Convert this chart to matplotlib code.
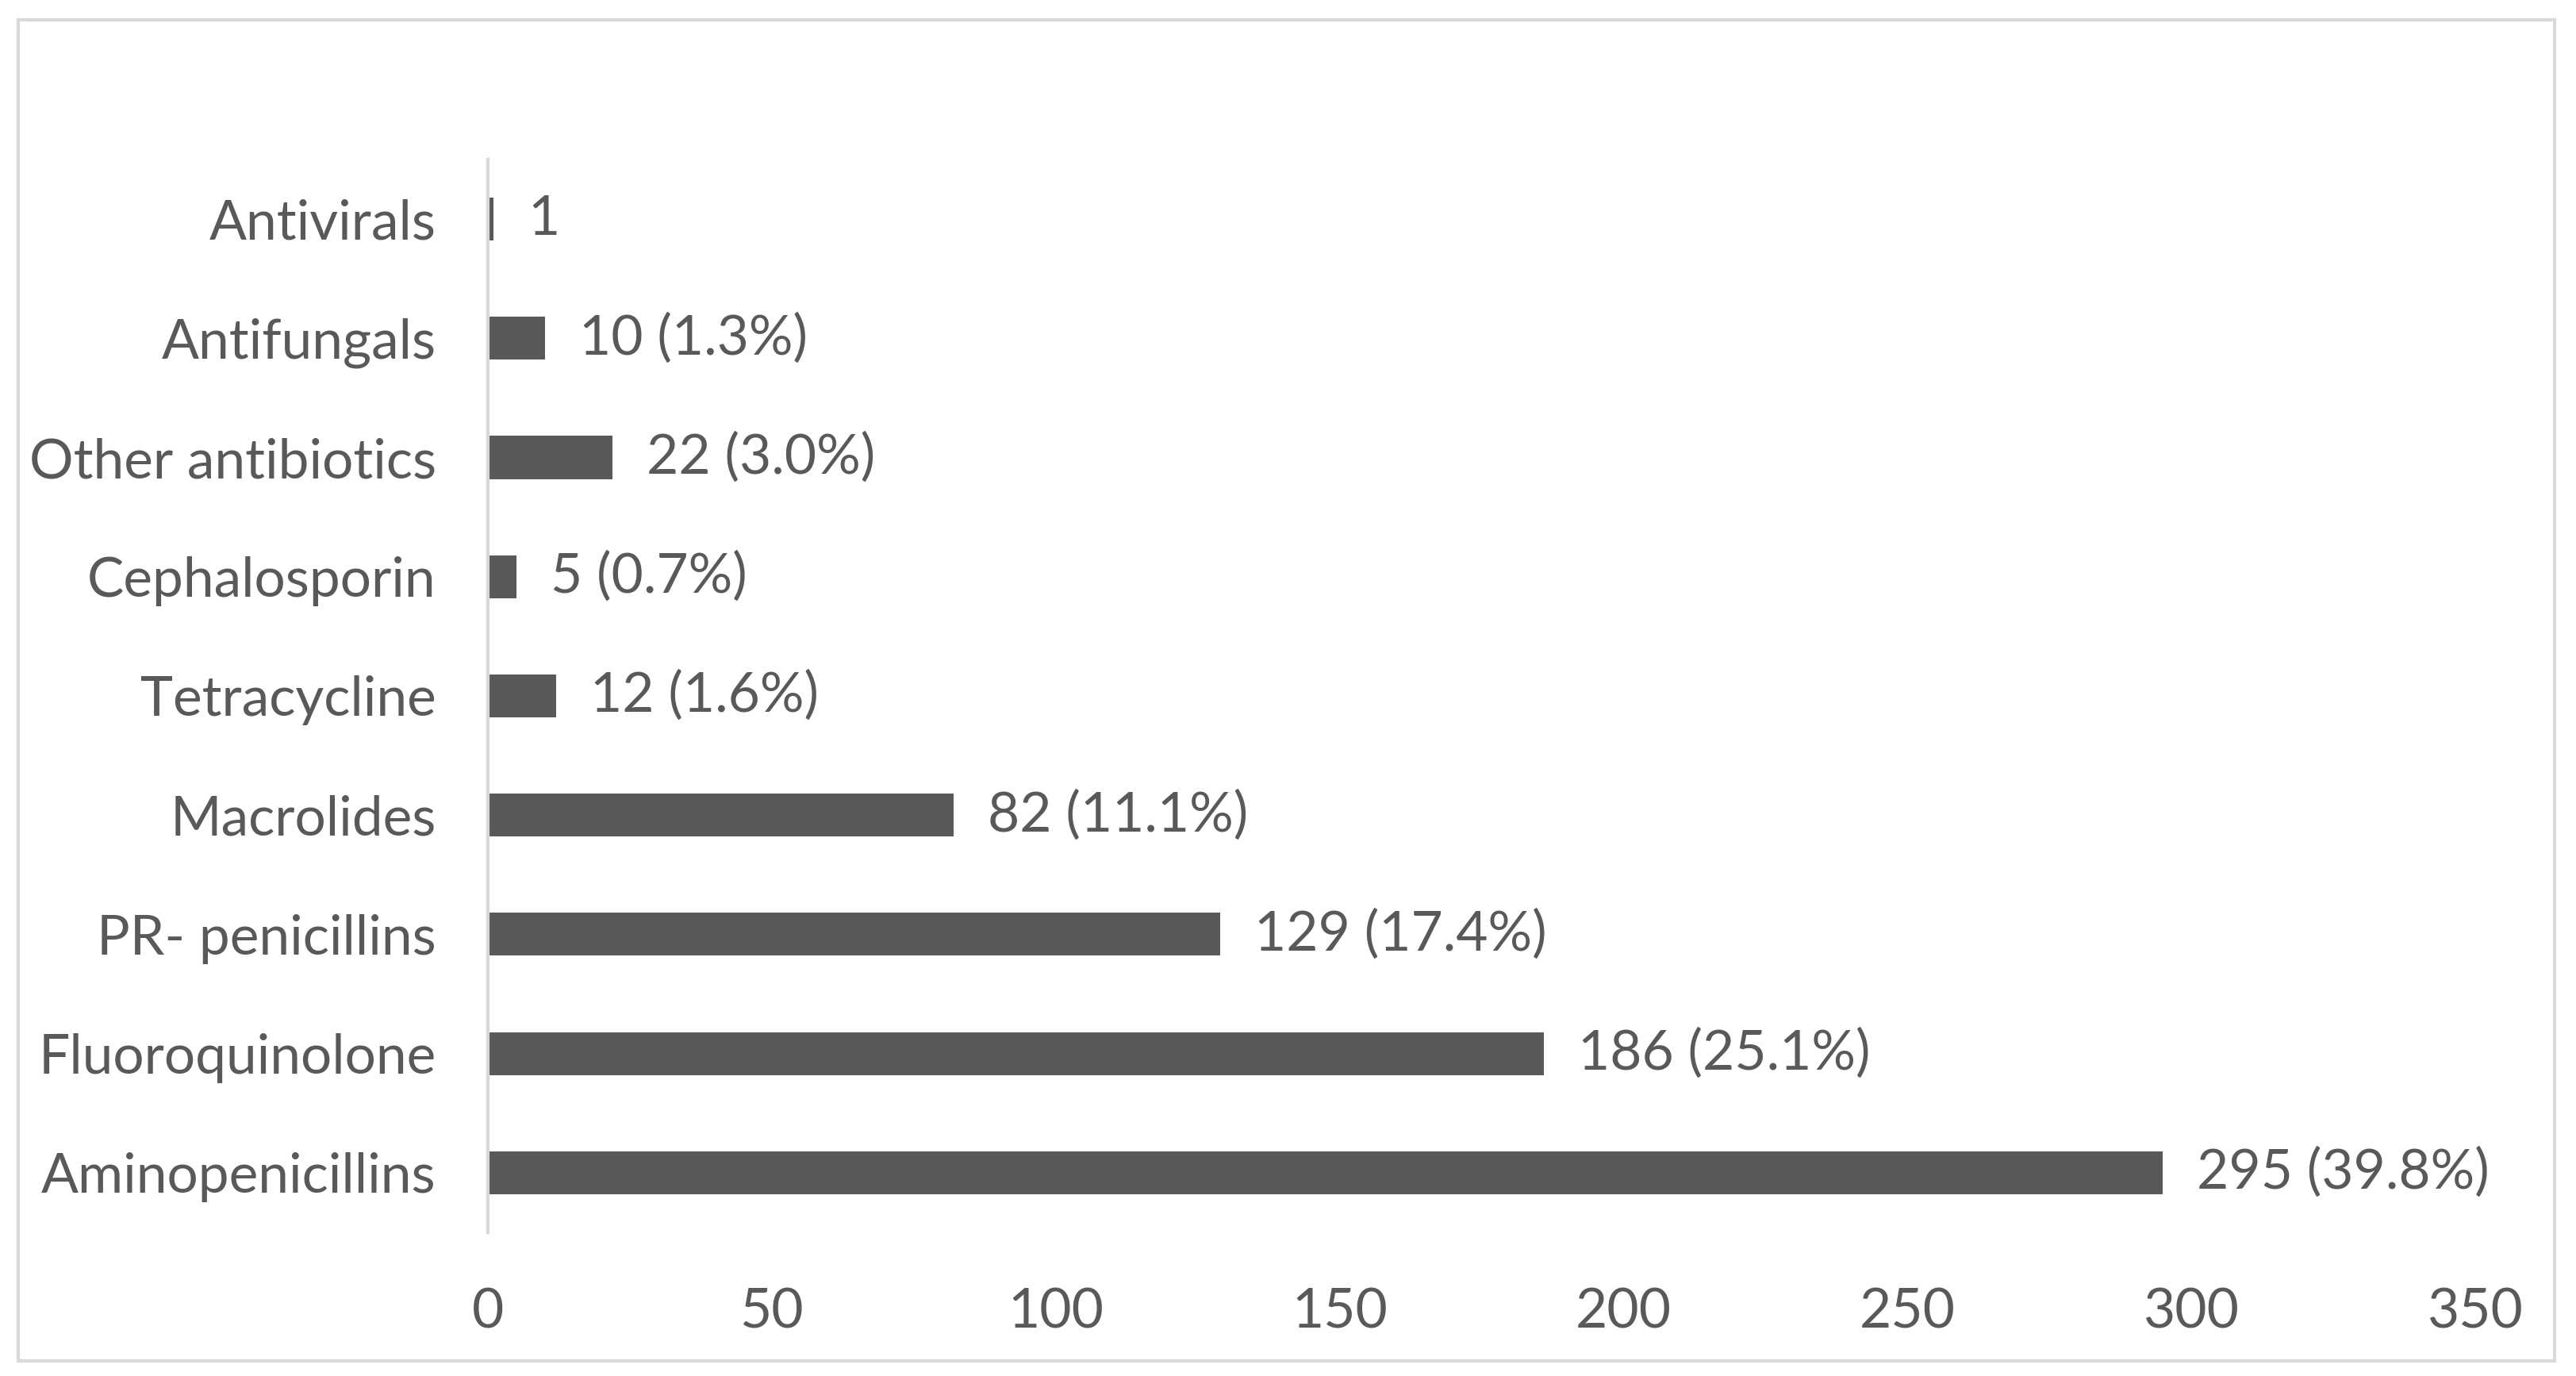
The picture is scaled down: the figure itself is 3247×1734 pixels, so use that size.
import matplotlib.pyplot as plt
from matplotlib.patches import Rectangle

# Datos
categorias = ['Aminopenicillins', 'Fluoroquinolone', 'PR- penicillins', 'Macrolides',
              'Tetracycline', 'Cephalosporin', 'Other antibiotics', 'Antifungals', 'Antivirals']
valores = [295, 186, 129, 82, 12, 5, 22, 10, 1]
porcentajes = ['39.8%', '25.1%', '17.4%', '11.1%', '1.6%', '0.7%', '3.0%', '1.3%', None]
ticks_x = [0, 50, 100, 150, 200, 250, 300, 350]

gris = '#595959'
gris_claro = '#d9d9d9'

plt.rcParams['font.family'] = ['Lato', 'DejaVu Sans']

fig = plt.figure(figsize=(32.47, 17.34), dpi=100)
ax = fig.add_axes([0.1894, 0.1044, 0.7715, 0.7797])

pos = list(range(len(categorias)))
ax.barh(pos, valores, height=0.36, color=gris)

# etiquetas de cada barra
for y, v, p in zip(pos, valores, porcentajes):
    txt = str(v) if p is None else '%d (%s)' % (v, p)
    ax.annotate(txt, xy=(v, y), xytext=(31, 0), textcoords='offset points',
                va='center', ha='left', fontsize=50, color=gris)

ax.set_xlim(0, 350)
ax.set_ylim(-0.5, len(categorias) - 0.5)
ax.set_xticks(ticks_x)
ax.set_yticks(pos)
ax.set_yticklabels(categorias)
ax.tick_params(axis='both', length=0, labelsize=50, colors=gris)
ax.tick_params(axis='y', pad=47)
ax.tick_params(axis='x', pad=50)

for s in ['top', 'right', 'bottom']:
    ax.spines[s].set_visible(False)
ax.spines['left'].set_color(gris_claro)
ax.spines['left'].set_linewidth(3)

# marco exterior del gráfico
fig.patches.append(Rectangle((0.007, 0.011), 0.9847, 0.9746, transform=fig.transFigure,
                             fill=False, edgecolor=gris_claro, linewidth=3))

plt.savefig('out.png', dpi=100)
plt.close()
